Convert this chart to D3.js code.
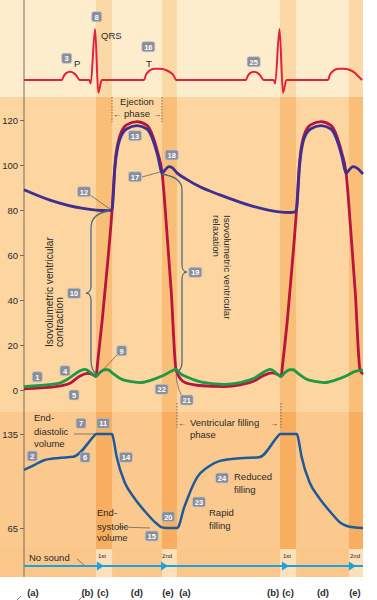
<!DOCTYPE html>
<html><head><meta charset="utf-8">
<script src="https://cdn.jsdelivr.net/npm/d3@7"></script>
<style>body{margin:0;background:#fff}svg{display:block}text{font-family:"Liberation Sans",Arial,sans-serif;fill:#2a2a2a}</style>
</head><body><svg id="c" width="377" height="600"></svg>
<script>
// ---------- DATA (time in ms) ----------
const ecgTrace = [[0,0],[165,0],[172,0.07],[182,0.13],[200,0.16],[218,0.13],[230,0.07],[243,0],[284,0],[290,-0.07],[309,1.0],[323,-0.25],[338,0],
 [522,0],[530,0.1],[545,0.18],[568,0.22],[591,0.22],[614,0.2],[636,0.15],[652,0.08],[661,0],
 [965,0],[972,0.07],[982,0.13],[1000,0.16],[1018,0.13],[1030,0.07],[1043,0],[1086,0],[1092,-0.07],[1111,1.0],[1126,-0.25],[1141,0],
 [1322,0],[1330,0.1],[1345,0.18],[1368,0.22],[1391,0.22],[1414,0.2],[1436,0.15],[1452,0.08],[1470,0]];
const aorticPressure = [[0,89],[113,84.4],[257,80.7],[361,79.7],[378,79.8],[383,80.5],[396,99.5],[417,111.5],[446,116],[491,117.5],[535,116],[561,111],[583,103.5],[600,96.3],[613,97.8],[630,99.3],[642,99],[665,96.5],[709,93.5],[765,90.3],[852,86.7],[1000,81.5],[1100,79.3],[1160,78.9],[1178,79.2],[1185,80.5],[1198,99.5],[1217,111.5],[1246,116],[1291,117.5],[1335,116],[1361,111],[1383,103.5],[1400,96.3],[1413,97.8],[1430,99.3],[1442,99],[1474,96]];
const ventricularPressure = [[0,0.5],[70,0.9],[157,1.8],[200,3],[243,6.2],[275,7.4],[300,6.8],[313,6],[320,12],[340,31],[365,58],[383,80],[396,101],[417,113],[446,117.8],[491,119.3],[535,117.6],[561,112.6],[583,105],[600,97],[620,72],[640,44],[661,9],[680,5],[700,3.3],[760,2],[870,1.5],[940,2.3],[1000,4],[1043,6.5],[1080,7.6],[1105,6.8],[1118,6],[1125,12],[1145,31],[1168,58],[1185,80],[1198,101],[1217,113],[1246,117.8],[1291,119.3],[1335,117.6],[1361,112.6],[1383,105],[1400,97],[1420,72],[1440,44],[1461,9],[1474,7]];
const atrialPressure = [[0,1.5],[70,2],[157,3.2],[200,5.5],[243,8.5],[265,9.2],[290,7.7],[313,6],[330,7.8],[350,9],[365,9],[385,7.5],[420,5],[460,3.8],[504,3.3],[550,4.3],[600,6.2],[640,8.3],[661,9.2],[680,7.3],[709,5.8],[760,3.8],[830,2.7],[870,2.5],[940,3.3],[1000,5.2],[1043,8],[1070,9.2],[1095,7.7],[1118,6],[1135,7.8],[1155,9],[1170,9],[1190,7.5],[1225,5],[1265,3.8],[1304,3.3],[1350,4.3],[1400,6.2],[1440,8.3],[1474,8.8]];
const ventricularVolume = [[0,108.3],[40,111.5],[87,115.5],[150,117.2],[215,118],[305,133.6],[313,135],[383,135],[388,132],[403,118],[439,98.5],[475,88.5],[533,76],[575,68.5],[600,65.5],[620,65],[665,65],[672,66],[680,70],[692,78],[709,86],[730,95],[752,102.5],[800,110.5],[852,115],[939,117],[1022,117.6],[1105,133.6],[1113,135],[1187,135],[1192,132],[1207,118],[1243,98.5],[1279,88.5],[1337,76],[1379,68.5],[1404,66.5],[1440,65.4],[1474,65]];
const phaseBands = [[313,383],[600,665],[1113,1183],[1413,1474]];
const pressureTicks = [0,20,40,60,80,100,120];
const volumeTicks = [65,135];
const heartSounds = [{t:330,label:"1st"},{t:609,label:"2nd"},{t:1135,label:"1st"},{t:1426,label:"2nd"}];
const phaseLabels = ["(a)","(b)","(c)","(d)","(e)","(a)","(b)","(c)","(d)","(e)"];
const phaseLabelTimes = [39,276,343,491,626,700,1083,1148,1300,1439];

// ---------- SCALES ----------
const svg = d3.select('#c');
const x = d3.scaleLinear().domain([0,1474]).range([24,363]);
const yE = d3.scaleLinear().domain([0,1]).range([80,29]);
const yP = d3.scaleLinear().domain([0,120]).range([390,120]);
const yV = d3.scaleLinear().domain([65,135]).range([528,434]);

// ---------- BACKGROUND ----------
const rows = [{y0:0,y1:97,base:'#fdedcd',band:'#fbd9a6'},{y0:97,y1:412,base:'#fcd5a0',band:'#f9bf78'},{y0:412,y1:549,base:'#fbc98d',band:'#f7ae60'},{y0:549,y1:577,base:'#fbc68a',band:'#fde0b8'}];
rows.forEach(r=>{
  svg.append('rect').attr('x',0).attr('y',r.y0).attr('width',x(1474)).attr('height',r.y1-r.y0).attr('fill',r.base);
  svg.selectAll(null).data(phaseBands).enter().append('rect')
    .attr('x',d=>x(d[0])).attr('y',r.y0).attr('width',d=>x(d[1])-x(d[0])).attr('height',r.y1-r.y0).attr('fill',r.band);
});

// axis line
svg.append('line').attr('x1',24).attr('x2',24).attr('y1',0).attr('y2',577).attr('stroke','#7a6a58').attr('stroke-width',1);

function styleAxis(g){
  g.select('.domain').remove();
  g.selectAll('.tick line').attr('stroke','#7a6a58');
  g.selectAll('.tick text').attr('font-size',9.5).attr('fill','#2a2a2a').attr('font-family','Liberation Sans, Arial, sans-serif');
}
svg.append('g').attr('transform','translate(24,0)').call(d3.axisLeft(yP).tickValues(pressureTicks).tickSize(4).tickPadding(2)).call(styleAxis);
svg.append('g').attr('transform','translate(24,0)').call(d3.axisLeft(yV).tickValues(volumeTicks).tickSize(4).tickPadding(2)).call(styleAxis);

// ---------- LINES ----------
const mk = (ys)=>d3.line().x(d=>x(d[0])).y(d=>ys(d[1])).curve(d3.curveMonotoneX);
svg.append('path').datum(ecgTrace).attr('d',mk(yE)).attr('fill','none').attr('stroke','#e5203c').attr('stroke-width',2);
svg.append('path').datum(ventricularPressure).attr('d',mk(yP)).attr('fill','none').attr('stroke','#b8143e').attr('stroke-width',2.8);
svg.append('path').datum(aorticPressure).attr('d',mk(yP)).attr('fill','none').attr('stroke','#3f2f90').attr('stroke-width',2.8);
svg.append('path').datum(atrialPressure).attr('d',mk(yP)).attr('fill','none').attr('stroke','#1e9a45').attr('stroke-width',2.8);
svg.append('path').datum(ventricularVolume).attr('d',mk(yV)).attr('fill','none').attr('stroke','#1c5b9b').attr('stroke-width',2.5);

// sound row
const ySound = 566;
svg.append('line').attr('x1',x(0)).attr('x2',x(1474)).attr('y1',ySound).attr('y2',ySound).attr('stroke','#1aa3dd').attr('stroke-width',2);
svg.selectAll(null).data(heartSounds).enter().append('path')
  .attr('d',d=>`M${x(d.t)-3},${ySound-4.5}L${x(d.t)+4},${ySound}L${x(d.t)-3},${ySound+4.5}Z`).attr('fill','#1aa3dd');
svg.selectAll(null).data(heartSounds).enter().append('text')
  .attr('x',d=>x(d.t)-2).attr('y',ySound-8).attr('font-size',6).text(d=>d.label);
svg.append('text').attr('x',29).attr('y',561).attr('font-size',9.5).text('No sound');
svg.append('line').attr('x1',77).attr('y1',559).attr('x2',84).attr('y2',565).attr('stroke','#555').attr('stroke-width',0.7);

// phase labels
svg.selectAll(null).data(phaseLabels).enter().append('text')
  .attr('x',(d,i)=>x(phaseLabelTimes[i])).attr('y',596).attr('text-anchor','middle').attr('font-size',9.5).attr('font-weight','bold').text(d=>d);

// ---------- ANNOTATIONS ----------
const ann = svg.append('g');
function lead(path){ann.append('path').attr('d',path).attr('fill','none').attr('stroke','#555').attr('stroke-width',0.7);}
lead('M90,195L110,209');
lead('M142,177L160,172');
lead('M117,355L98,375');
lead('M176,375Q178,393 184,398');
lead('M74,434L97,434');
lead('M119,527L150,528');
lead('M17,600L21,596M79,600L83,596');
// braces
ann.append('path').attr('d','M110,211C100,212 91,216 91,228L91,286C91,290 89,293 86,293C89,293 91,296 91,300L91,360C91,368 93,372 97,375').attr('fill','none').attr('stroke','#4e6e7e').attr('stroke-width',1.3);
ann.append('path').attr('d','M162,174C172,176 182,179 182,190L182,265C182,269 184,272 187,272C184,272 182,275 182,279L182,362C182,368 180,371 176,373').attr('fill','none').attr('stroke','#4e6e7e').attr('stroke-width',1.3);
// dotted phase markers
[[112,97,122],[162,97,122],[177,403,428],[281,403,428]].forEach(d=>{
  ann.append('line').attr('x1',d[0]).attr('x2',d[0]).attr('y1',d[1]).attr('y2',d[2]).attr('stroke','#555').attr('stroke-width',0.8).attr('stroke-dasharray','1.5,1.5');
});
function txt(x0,y0,s,size,anchor){ann.append('text').attr('x',x0).attr('y',y0).attr('font-size',size||9.5).attr('text-anchor',anchor||'start').text(s);}
txt(101,39,'QRS');
txt(74,67,'P');
txt(146,67,'T');
txt(137,105,'Ejection',9.5,'middle');
txt(137,117,'phase',9.5,'middle');
txt(113,117,'←',8);
txt(153,117,'→',8);
txt(34,421,'End-');
txt(34,435,'diastolic');
txt(34,447,'volume');
txt(97,516,'End-');
txt(97,530,'systolic');
txt(97,541,'volume');
txt(178,426,'←',8);
txt(190,426,'Ventricular filling');
txt(270,426,'→',8);
txt(190,438,'phase');
txt(234,480,'Reduced');
txt(234,493,'filling');
txt(209,516,'Rapid');
txt(209,529,'filling');
ann.append('text').attr('transform','translate(53,347) rotate(-90)').attr('font-size',10.2).text('Isovolumetric ventricular');
ann.append('text').attr('transform','translate(63,347) rotate(-90)').attr('font-size',10.2).text('contraction');
ann.append('text').attr('transform','translate(224,215) rotate(90)').attr('font-size',9.7).text('Isovolumetric ventricular');
ann.append('text').attr('transform','translate(213,215) rotate(90)').attr('font-size',9.7).text('relaxation');

const boxes = [['8',96.7,16.7],['3',66.7,58.3],['16',148.3,46.7],['25',253.7,61.7],['13',135,135.7],['18',171.7,155],['17',135,176.7],['12',84,191.7],['10',74,293.3],['9',121.7,350.7],['1',37.3,376.7],['4',65,370.7],['5',74,395],['22',161.7,389.3],['21',186.7,400],['19',195.3,272.3],['7',81,423.3],['11',103.3,423.3],['2',32.3,456],['6',85,457.3],['14',126,457.3],['20',168.3,516.7],['15',151.7,536],['23',199,502],['24',222,478]];
boxes.forEach(b=>{
  const w = b[0].length>1?13:10;
  ann.append('rect').attr('x',b[1]-w/2).attr('y',b[2]-5).attr('width',w).attr('height',10).attr('rx',2).attr('fill','#8a8e98').attr('stroke','#c3c5ca').attr('stroke-width',0.7);
  ann.append('text').attr('x',b[1]).attr('y',b[2]+3).attr('text-anchor','middle').attr('font-size',7.5).attr('font-weight','bold').style('fill','#fff').text(b[0]);
});
</script></body></html>
